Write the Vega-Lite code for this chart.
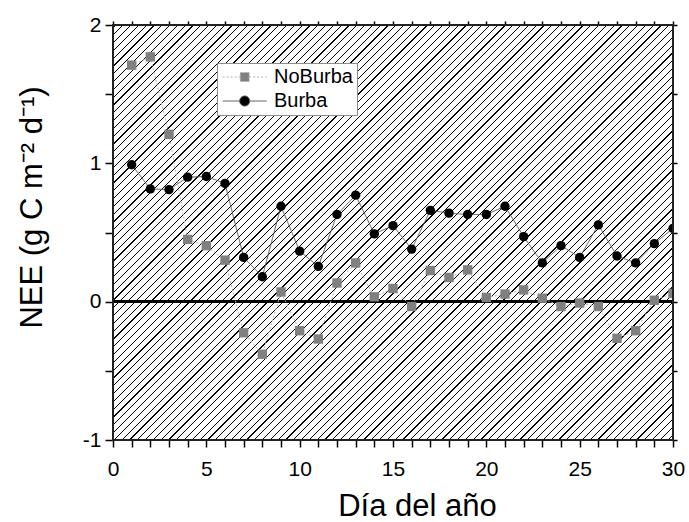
{
  "$schema": "https://vega.github.io/schema/vega-lite/v6.json",
  "autosize": {"type": "none"},
  "width": 560,
  "height": 415,
  "padding": {"left": 113, "top": 25, "right": 16, "bottom": 82},
  "background": "#ffffff",
  "config": {
    "view": {"stroke": null},
    "axis": {
      "domain": false, "grid": false, "zindex": 1,
      "tickColor": "#000", "tickWidth": 1.5,
      "labelFont": "Liberation Sans", "labelFontSize": 21, "labelColor": "#000",
      "labelOverlap": false, "labelFlush": false,
      "titleFont": "Liberation Sans", "titleFontSize": 31, "titleFontWeight": "normal", "titleColor": "#000"
    },
    "legend": {
      "orient": "none", "legendX": 104, "legendY": 38,
      "padding": 4, "fillColor": "#ffffff", "strokeColor": "#8c8c8c",
      "labelFont": "Liberation Sans", "labelFontSize": 20, "labelColor": "#000", "labelLimit": 300,
      "symbolSize": 100, "symbolOffset": 13.7, "labelOffset": 19.3, "rowPadding": 4,
      "symbolOpacity": 1, "symbolStrokeWidth": 1
    }
  },
  "data": {
    "values": [
      {"day": 1, "series": "NoBurba", "nee": 1.71},
      {"day": 2, "series": "NoBurba", "nee": 1.77},
      {"day": 3, "series": "NoBurba", "nee": 1.21},
      {"day": 4, "series": "NoBurba", "nee": 0.45},
      {"day": 5, "series": "NoBurba", "nee": 0.405},
      {"day": 6, "series": "NoBurba", "nee": 0.30},
      {"day": 7, "series": "NoBurba", "nee": -0.225},
      {"day": 8, "series": "NoBurba", "nee": -0.38},
      {"day": 9, "series": "NoBurba", "nee": 0.07},
      {"day": 10, "series": "NoBurba", "nee": -0.21},
      {"day": 11, "series": "NoBurba", "nee": -0.27},
      {"day": 12, "series": "NoBurba", "nee": 0.135},
      {"day": 13, "series": "NoBurba", "nee": 0.28},
      {"day": 14, "series": "NoBurba", "nee": 0.035},
      {"day": 15, "series": "NoBurba", "nee": 0.095},
      {"day": 16, "series": "NoBurba", "nee": -0.035},
      {"day": 17, "series": "NoBurba", "nee": 0.225},
      {"day": 18, "series": "NoBurba", "nee": 0.175},
      {"day": 19, "series": "NoBurba", "nee": 0.23},
      {"day": 20, "series": "NoBurba", "nee": 0.03},
      {"day": 21, "series": "NoBurba", "nee": 0.055},
      {"day": 22, "series": "NoBurba", "nee": 0.085},
      {"day": 23, "series": "NoBurba", "nee": 0.025},
      {"day": 24, "series": "NoBurba", "nee": -0.035},
      {"day": 25, "series": "NoBurba", "nee": -0.01},
      {"day": 26, "series": "NoBurba", "nee": -0.035},
      {"day": 27, "series": "NoBurba", "nee": -0.265},
      {"day": 28, "series": "NoBurba", "nee": -0.21},
      {"day": 29, "series": "NoBurba", "nee": 0.01},
      {"day": 30, "series": "NoBurba", "nee": 0.06},
      {"day": 1, "series": "Burba", "nee": 0.99},
      {"day": 2, "series": "Burba", "nee": 0.815},
      {"day": 3, "series": "Burba", "nee": 0.81},
      {"day": 4, "series": "Burba", "nee": 0.90},
      {"day": 5, "series": "Burba", "nee": 0.905},
      {"day": 6, "series": "Burba", "nee": 0.855},
      {"day": 7, "series": "Burba", "nee": 0.32},
      {"day": 8, "series": "Burba", "nee": 0.18},
      {"day": 9, "series": "Burba", "nee": 0.69},
      {"day": 10, "series": "Burba", "nee": 0.365},
      {"day": 11, "series": "Burba", "nee": 0.255},
      {"day": 12, "series": "Burba", "nee": 0.63},
      {"day": 13, "series": "Burba", "nee": 0.77},
      {"day": 14, "series": "Burba", "nee": 0.49},
      {"day": 15, "series": "Burba", "nee": 0.55},
      {"day": 16, "series": "Burba", "nee": 0.38},
      {"day": 17, "series": "Burba", "nee": 0.66},
      {"day": 18, "series": "Burba", "nee": 0.64},
      {"day": 19, "series": "Burba", "nee": 0.63},
      {"day": 20, "series": "Burba", "nee": 0.63},
      {"day": 21, "series": "Burba", "nee": 0.69},
      {"day": 22, "series": "Burba", "nee": 0.47},
      {"day": 23, "series": "Burba", "nee": 0.28},
      {"day": 24, "series": "Burba", "nee": 0.405},
      {"day": 25, "series": "Burba", "nee": 0.32},
      {"day": 26, "series": "Burba", "nee": 0.555},
      {"day": 27, "series": "Burba", "nee": 0.33},
      {"day": 28, "series": "Burba", "nee": 0.28},
      {"day": 29, "series": "Burba", "nee": 0.42},
      {"day": 30, "series": "Burba", "nee": 0.53}
    ]
  },
  "resolve": {
    "axis": {"x": "independent", "y": "independent"},
    "scale": {"shape": "independent", "fill": "independent", "stroke": "independent", "strokeDash": "independent"}
  },
  "layer": [
    {
      "mark": {
        "type": "rect",
        "fill": {
          "gradient": "linear", "x1": 0, "y1": 0, "x2": 1.1238, "y2": 0.8328,
          "stops": [
{"offset":0.002,"color":"#fff"},{"offset":0.002,"color":"#000"},{"offset":0.0032,"color":"#000"},{"offset":0.0032,"color":"#fff"},
{"offset":0.010,"color":"#fff"},{"offset":0.010,"color":"#000"},{"offset":0.0112,"color":"#000"},{"offset":0.0112,"color":"#fff"},
{"offset":0.018,"color":"#fff"},{"offset":0.018,"color":"#000"},{"offset":0.0192,"color":"#000"},{"offset":0.0192,"color":"#fff"},
{"offset":0.026,"color":"#fff"},{"offset":0.026,"color":"#000"},{"offset":0.0272,"color":"#000"},{"offset":0.0272,"color":"#fff"},
{"offset":0.034,"color":"#fff"},{"offset":0.034,"color":"#000"},{"offset":0.0352,"color":"#000"},{"offset":0.0352,"color":"#fff"},
{"offset":0.042,"color":"#fff"},{"offset":0.042,"color":"#000"},{"offset":0.0432,"color":"#000"},{"offset":0.0432,"color":"#fff"},
{"offset":0.050,"color":"#fff"},{"offset":0.050,"color":"#000"},{"offset":0.0512,"color":"#000"},{"offset":0.0512,"color":"#fff"},
{"offset":0.058,"color":"#fff"},{"offset":0.058,"color":"#000"},{"offset":0.0592,"color":"#000"},{"offset":0.0592,"color":"#fff"},
{"offset":0.066,"color":"#fff"},{"offset":0.066,"color":"#000"},{"offset":0.0672,"color":"#000"},{"offset":0.0672,"color":"#fff"},
{"offset":0.074,"color":"#fff"},{"offset":0.074,"color":"#000"},{"offset":0.0752,"color":"#000"},{"offset":0.0752,"color":"#fff"},
{"offset":0.082,"color":"#fff"},{"offset":0.082,"color":"#000"},{"offset":0.0832,"color":"#000"},{"offset":0.0832,"color":"#fff"},
{"offset":0.090,"color":"#fff"},{"offset":0.090,"color":"#000"},{"offset":0.0912,"color":"#000"},{"offset":0.0912,"color":"#fff"},
{"offset":0.098,"color":"#fff"},{"offset":0.098,"color":"#000"},{"offset":0.0992,"color":"#000"},{"offset":0.0992,"color":"#fff"},
{"offset":0.106,"color":"#fff"},{"offset":0.106,"color":"#000"},{"offset":0.1072,"color":"#000"},{"offset":0.1072,"color":"#fff"},
{"offset":0.114,"color":"#fff"},{"offset":0.114,"color":"#000"},{"offset":0.1152,"color":"#000"},{"offset":0.1152,"color":"#fff"},
{"offset":0.122,"color":"#fff"},{"offset":0.122,"color":"#000"},{"offset":0.1232,"color":"#000"},{"offset":0.1232,"color":"#fff"},
{"offset":0.130,"color":"#fff"},{"offset":0.130,"color":"#000"},{"offset":0.1312,"color":"#000"},{"offset":0.1312,"color":"#fff"},
{"offset":0.138,"color":"#fff"},{"offset":0.138,"color":"#000"},{"offset":0.1392,"color":"#000"},{"offset":0.1392,"color":"#fff"},
{"offset":0.146,"color":"#fff"},{"offset":0.146,"color":"#000"},{"offset":0.1472,"color":"#000"},{"offset":0.1472,"color":"#fff"},
{"offset":0.154,"color":"#fff"},{"offset":0.154,"color":"#000"},{"offset":0.1552,"color":"#000"},{"offset":0.1552,"color":"#fff"},
{"offset":0.162,"color":"#fff"},{"offset":0.162,"color":"#000"},{"offset":0.1632,"color":"#000"},{"offset":0.1632,"color":"#fff"},
{"offset":0.170,"color":"#fff"},{"offset":0.170,"color":"#000"},{"offset":0.1712,"color":"#000"},{"offset":0.1712,"color":"#fff"},
{"offset":0.178,"color":"#fff"},{"offset":0.178,"color":"#000"},{"offset":0.1792,"color":"#000"},{"offset":0.1792,"color":"#fff"},
{"offset":0.186,"color":"#fff"},{"offset":0.186,"color":"#000"},{"offset":0.1872,"color":"#000"},{"offset":0.1872,"color":"#fff"},
{"offset":0.194,"color":"#fff"},{"offset":0.194,"color":"#000"},{"offset":0.1952,"color":"#000"},{"offset":0.1952,"color":"#fff"},
{"offset":0.202,"color":"#fff"},{"offset":0.202,"color":"#000"},{"offset":0.2032,"color":"#000"},{"offset":0.2032,"color":"#fff"},
{"offset":0.210,"color":"#fff"},{"offset":0.210,"color":"#000"},{"offset":0.2112,"color":"#000"},{"offset":0.2112,"color":"#fff"},
{"offset":0.218,"color":"#fff"},{"offset":0.218,"color":"#000"},{"offset":0.2192,"color":"#000"},{"offset":0.2192,"color":"#fff"},
{"offset":0.226,"color":"#fff"},{"offset":0.226,"color":"#000"},{"offset":0.2272,"color":"#000"},{"offset":0.2272,"color":"#fff"},
{"offset":0.234,"color":"#fff"},{"offset":0.234,"color":"#000"},{"offset":0.2352,"color":"#000"},{"offset":0.2352,"color":"#fff"},
{"offset":0.242,"color":"#fff"},{"offset":0.242,"color":"#000"},{"offset":0.2432,"color":"#000"},{"offset":0.2432,"color":"#fff"},
{"offset":0.250,"color":"#fff"},{"offset":0.250,"color":"#000"},{"offset":0.2512,"color":"#000"},{"offset":0.2512,"color":"#fff"},
{"offset":0.258,"color":"#fff"},{"offset":0.258,"color":"#000"},{"offset":0.2592,"color":"#000"},{"offset":0.2592,"color":"#fff"},
{"offset":0.266,"color":"#fff"},{"offset":0.266,"color":"#000"},{"offset":0.2672,"color":"#000"},{"offset":0.2672,"color":"#fff"},
{"offset":0.274,"color":"#fff"},{"offset":0.274,"color":"#000"},{"offset":0.2752,"color":"#000"},{"offset":0.2752,"color":"#fff"},
{"offset":0.282,"color":"#fff"},{"offset":0.282,"color":"#000"},{"offset":0.2832,"color":"#000"},{"offset":0.2832,"color":"#fff"},
{"offset":0.290,"color":"#fff"},{"offset":0.290,"color":"#000"},{"offset":0.2912,"color":"#000"},{"offset":0.2912,"color":"#fff"},
{"offset":0.298,"color":"#fff"},{"offset":0.298,"color":"#000"},{"offset":0.2992,"color":"#000"},{"offset":0.2992,"color":"#fff"},
{"offset":0.306,"color":"#fff"},{"offset":0.306,"color":"#000"},{"offset":0.3072,"color":"#000"},{"offset":0.3072,"color":"#fff"},
{"offset":0.314,"color":"#fff"},{"offset":0.314,"color":"#000"},{"offset":0.3152,"color":"#000"},{"offset":0.3152,"color":"#fff"},
{"offset":0.322,"color":"#fff"},{"offset":0.322,"color":"#000"},{"offset":0.3232,"color":"#000"},{"offset":0.3232,"color":"#fff"},
{"offset":0.330,"color":"#fff"},{"offset":0.330,"color":"#000"},{"offset":0.3312,"color":"#000"},{"offset":0.3312,"color":"#fff"},
{"offset":0.338,"color":"#fff"},{"offset":0.338,"color":"#000"},{"offset":0.3392,"color":"#000"},{"offset":0.3392,"color":"#fff"},
{"offset":0.346,"color":"#fff"},{"offset":0.346,"color":"#000"},{"offset":0.3472,"color":"#000"},{"offset":0.3472,"color":"#fff"},
{"offset":0.354,"color":"#fff"},{"offset":0.354,"color":"#000"},{"offset":0.3552,"color":"#000"},{"offset":0.3552,"color":"#fff"},
{"offset":0.362,"color":"#fff"},{"offset":0.362,"color":"#000"},{"offset":0.3632,"color":"#000"},{"offset":0.3632,"color":"#fff"},
{"offset":0.370,"color":"#fff"},{"offset":0.370,"color":"#000"},{"offset":0.3712,"color":"#000"},{"offset":0.3712,"color":"#fff"},
{"offset":0.378,"color":"#fff"},{"offset":0.378,"color":"#000"},{"offset":0.3792,"color":"#000"},{"offset":0.3792,"color":"#fff"},
{"offset":0.386,"color":"#fff"},{"offset":0.386,"color":"#000"},{"offset":0.3872,"color":"#000"},{"offset":0.3872,"color":"#fff"},
{"offset":0.394,"color":"#fff"},{"offset":0.394,"color":"#000"},{"offset":0.3952,"color":"#000"},{"offset":0.3952,"color":"#fff"},
{"offset":0.402,"color":"#fff"},{"offset":0.402,"color":"#000"},{"offset":0.4032,"color":"#000"},{"offset":0.4032,"color":"#fff"},
{"offset":0.410,"color":"#fff"},{"offset":0.410,"color":"#000"},{"offset":0.4112,"color":"#000"},{"offset":0.4112,"color":"#fff"},
{"offset":0.418,"color":"#fff"},{"offset":0.418,"color":"#000"},{"offset":0.4192,"color":"#000"},{"offset":0.4192,"color":"#fff"},
{"offset":0.426,"color":"#fff"},{"offset":0.426,"color":"#000"},{"offset":0.4272,"color":"#000"},{"offset":0.4272,"color":"#fff"},
{"offset":0.434,"color":"#fff"},{"offset":0.434,"color":"#000"},{"offset":0.4352,"color":"#000"},{"offset":0.4352,"color":"#fff"},
{"offset":0.442,"color":"#fff"},{"offset":0.442,"color":"#000"},{"offset":0.4432,"color":"#000"},{"offset":0.4432,"color":"#fff"},
{"offset":0.450,"color":"#fff"},{"offset":0.450,"color":"#000"},{"offset":0.4512,"color":"#000"},{"offset":0.4512,"color":"#fff"},
{"offset":0.458,"color":"#fff"},{"offset":0.458,"color":"#000"},{"offset":0.4592,"color":"#000"},{"offset":0.4592,"color":"#fff"},
{"offset":0.466,"color":"#fff"},{"offset":0.466,"color":"#000"},{"offset":0.4672,"color":"#000"},{"offset":0.4672,"color":"#fff"},
{"offset":0.474,"color":"#fff"},{"offset":0.474,"color":"#000"},{"offset":0.4752,"color":"#000"},{"offset":0.4752,"color":"#fff"},
{"offset":0.482,"color":"#fff"},{"offset":0.482,"color":"#000"},{"offset":0.4832,"color":"#000"},{"offset":0.4832,"color":"#fff"},
{"offset":0.490,"color":"#fff"},{"offset":0.490,"color":"#000"},{"offset":0.4912,"color":"#000"},{"offset":0.4912,"color":"#fff"},
{"offset":0.498,"color":"#fff"},{"offset":0.498,"color":"#000"},{"offset":0.4992,"color":"#000"},{"offset":0.4992,"color":"#fff"},
{"offset":0.506,"color":"#fff"},{"offset":0.506,"color":"#000"},{"offset":0.5072,"color":"#000"},{"offset":0.5072,"color":"#fff"},
{"offset":0.514,"color":"#fff"},{"offset":0.514,"color":"#000"},{"offset":0.5152,"color":"#000"},{"offset":0.5152,"color":"#fff"},
{"offset":0.522,"color":"#fff"},{"offset":0.522,"color":"#000"},{"offset":0.5232,"color":"#000"},{"offset":0.5232,"color":"#fff"},
{"offset":0.530,"color":"#fff"},{"offset":0.530,"color":"#000"},{"offset":0.5312,"color":"#000"},{"offset":0.5312,"color":"#fff"},
{"offset":0.538,"color":"#fff"},{"offset":0.538,"color":"#000"},{"offset":0.5392,"color":"#000"},{"offset":0.5392,"color":"#fff"},
{"offset":0.546,"color":"#fff"},{"offset":0.546,"color":"#000"},{"offset":0.5472,"color":"#000"},{"offset":0.5472,"color":"#fff"},
{"offset":0.554,"color":"#fff"},{"offset":0.554,"color":"#000"},{"offset":0.5552,"color":"#000"},{"offset":0.5552,"color":"#fff"},
{"offset":0.562,"color":"#fff"},{"offset":0.562,"color":"#000"},{"offset":0.5632,"color":"#000"},{"offset":0.5632,"color":"#fff"},
{"offset":0.570,"color":"#fff"},{"offset":0.570,"color":"#000"},{"offset":0.5712,"color":"#000"},{"offset":0.5712,"color":"#fff"},
{"offset":0.578,"color":"#fff"},{"offset":0.578,"color":"#000"},{"offset":0.5792,"color":"#000"},{"offset":0.5792,"color":"#fff"},
{"offset":0.586,"color":"#fff"},{"offset":0.586,"color":"#000"},{"offset":0.5872,"color":"#000"},{"offset":0.5872,"color":"#fff"},
{"offset":0.594,"color":"#fff"},{"offset":0.594,"color":"#000"},{"offset":0.5952,"color":"#000"},{"offset":0.5952,"color":"#fff"},
{"offset":0.602,"color":"#fff"},{"offset":0.602,"color":"#000"},{"offset":0.6032,"color":"#000"},{"offset":0.6032,"color":"#fff"},
{"offset":0.610,"color":"#fff"},{"offset":0.610,"color":"#000"},{"offset":0.6112,"color":"#000"},{"offset":0.6112,"color":"#fff"},
{"offset":0.618,"color":"#fff"},{"offset":0.618,"color":"#000"},{"offset":0.6192,"color":"#000"},{"offset":0.6192,"color":"#fff"},
{"offset":0.626,"color":"#fff"},{"offset":0.626,"color":"#000"},{"offset":0.6272,"color":"#000"},{"offset":0.6272,"color":"#fff"},
{"offset":0.634,"color":"#fff"},{"offset":0.634,"color":"#000"},{"offset":0.6352,"color":"#000"},{"offset":0.6352,"color":"#fff"},
{"offset":0.642,"color":"#fff"},{"offset":0.642,"color":"#000"},{"offset":0.6432,"color":"#000"},{"offset":0.6432,"color":"#fff"},
{"offset":0.650,"color":"#fff"},{"offset":0.650,"color":"#000"},{"offset":0.6512,"color":"#000"},{"offset":0.6512,"color":"#fff"},
{"offset":0.658,"color":"#fff"},{"offset":0.658,"color":"#000"},{"offset":0.6592,"color":"#000"},{"offset":0.6592,"color":"#fff"},
{"offset":0.666,"color":"#fff"},{"offset":0.666,"color":"#000"},{"offset":0.6672,"color":"#000"},{"offset":0.6672,"color":"#fff"},
{"offset":0.674,"color":"#fff"},{"offset":0.674,"color":"#000"},{"offset":0.6752,"color":"#000"},{"offset":0.6752,"color":"#fff"},
{"offset":0.682,"color":"#fff"},{"offset":0.682,"color":"#000"},{"offset":0.6832,"color":"#000"},{"offset":0.6832,"color":"#fff"},
{"offset":0.690,"color":"#fff"},{"offset":0.690,"color":"#000"},{"offset":0.6912,"color":"#000"},{"offset":0.6912,"color":"#fff"},
{"offset":0.698,"color":"#fff"},{"offset":0.698,"color":"#000"},{"offset":0.6992,"color":"#000"},{"offset":0.6992,"color":"#fff"},
{"offset":0.706,"color":"#fff"},{"offset":0.706,"color":"#000"},{"offset":0.7072,"color":"#000"},{"offset":0.7072,"color":"#fff"},
{"offset":0.714,"color":"#fff"},{"offset":0.714,"color":"#000"},{"offset":0.7152,"color":"#000"},{"offset":0.7152,"color":"#fff"},
{"offset":0.722,"color":"#fff"},{"offset":0.722,"color":"#000"},{"offset":0.7232,"color":"#000"},{"offset":0.7232,"color":"#fff"},
{"offset":0.730,"color":"#fff"},{"offset":0.730,"color":"#000"},{"offset":0.7312,"color":"#000"},{"offset":0.7312,"color":"#fff"},
{"offset":0.738,"color":"#fff"},{"offset":0.738,"color":"#000"},{"offset":0.7392,"color":"#000"},{"offset":0.7392,"color":"#fff"},
{"offset":0.746,"color":"#fff"},{"offset":0.746,"color":"#000"},{"offset":0.7472,"color":"#000"},{"offset":0.7472,"color":"#fff"},
{"offset":0.754,"color":"#fff"},{"offset":0.754,"color":"#000"},{"offset":0.7552,"color":"#000"},{"offset":0.7552,"color":"#fff"},
{"offset":0.762,"color":"#fff"},{"offset":0.762,"color":"#000"},{"offset":0.7632,"color":"#000"},{"offset":0.7632,"color":"#fff"},
{"offset":0.770,"color":"#fff"},{"offset":0.770,"color":"#000"},{"offset":0.7712,"color":"#000"},{"offset":0.7712,"color":"#fff"},
{"offset":0.778,"color":"#fff"},{"offset":0.778,"color":"#000"},{"offset":0.7792,"color":"#000"},{"offset":0.7792,"color":"#fff"},
{"offset":0.786,"color":"#fff"},{"offset":0.786,"color":"#000"},{"offset":0.7872,"color":"#000"},{"offset":0.7872,"color":"#fff"},
{"offset":0.794,"color":"#fff"},{"offset":0.794,"color":"#000"},{"offset":0.7952,"color":"#000"},{"offset":0.7952,"color":"#fff"},
{"offset":0.802,"color":"#fff"},{"offset":0.802,"color":"#000"},{"offset":0.8032,"color":"#000"},{"offset":0.8032,"color":"#fff"},
{"offset":0.810,"color":"#fff"},{"offset":0.810,"color":"#000"},{"offset":0.8112,"color":"#000"},{"offset":0.8112,"color":"#fff"},
{"offset":0.818,"color":"#fff"},{"offset":0.818,"color":"#000"},{"offset":0.8192,"color":"#000"},{"offset":0.8192,"color":"#fff"},
{"offset":0.826,"color":"#fff"},{"offset":0.826,"color":"#000"},{"offset":0.8272,"color":"#000"},{"offset":0.8272,"color":"#fff"},
{"offset":0.834,"color":"#fff"},{"offset":0.834,"color":"#000"},{"offset":0.8352,"color":"#000"},{"offset":0.8352,"color":"#fff"},
{"offset":0.842,"color":"#fff"},{"offset":0.842,"color":"#000"},{"offset":0.8432,"color":"#000"},{"offset":0.8432,"color":"#fff"},
{"offset":0.850,"color":"#fff"},{"offset":0.850,"color":"#000"},{"offset":0.8512,"color":"#000"},{"offset":0.8512,"color":"#fff"},
{"offset":0.858,"color":"#fff"},{"offset":0.858,"color":"#000"},{"offset":0.8592,"color":"#000"},{"offset":0.8592,"color":"#fff"},
{"offset":0.866,"color":"#fff"},{"offset":0.866,"color":"#000"},{"offset":0.8672,"color":"#000"},{"offset":0.8672,"color":"#fff"},
{"offset":0.874,"color":"#fff"},{"offset":0.874,"color":"#000"},{"offset":0.8752,"color":"#000"},{"offset":0.8752,"color":"#fff"},
{"offset":0.882,"color":"#fff"},{"offset":0.882,"color":"#000"},{"offset":0.8832,"color":"#000"},{"offset":0.8832,"color":"#fff"},
{"offset":0.890,"color":"#fff"},{"offset":0.890,"color":"#000"},{"offset":0.8912,"color":"#000"},{"offset":0.8912,"color":"#fff"},
{"offset":0.898,"color":"#fff"},{"offset":0.898,"color":"#000"},{"offset":0.8992,"color":"#000"},{"offset":0.8992,"color":"#fff"},
{"offset":0.906,"color":"#fff"},{"offset":0.906,"color":"#000"},{"offset":0.9072,"color":"#000"},{"offset":0.9072,"color":"#fff"},
{"offset":0.914,"color":"#fff"},{"offset":0.914,"color":"#000"},{"offset":0.9152,"color":"#000"},{"offset":0.9152,"color":"#fff"},
{"offset":0.922,"color":"#fff"},{"offset":0.922,"color":"#000"},{"offset":0.9232,"color":"#000"},{"offset":0.9232,"color":"#fff"},
{"offset":0.930,"color":"#fff"},{"offset":0.930,"color":"#000"},{"offset":0.9312,"color":"#000"},{"offset":0.9312,"color":"#fff"},
{"offset":0.938,"color":"#fff"},{"offset":0.938,"color":"#000"},{"offset":0.9392,"color":"#000"},{"offset":0.9392,"color":"#fff"},
{"offset":0.946,"color":"#fff"},{"offset":0.946,"color":"#000"},{"offset":0.9472,"color":"#000"},{"offset":0.9472,"color":"#fff"},
{"offset":0.954,"color":"#fff"},{"offset":0.954,"color":"#000"},{"offset":0.9552,"color":"#000"},{"offset":0.9552,"color":"#fff"},
{"offset":0.962,"color":"#fff"},{"offset":0.962,"color":"#000"},{"offset":0.9632,"color":"#000"},{"offset":0.9632,"color":"#fff"},
{"offset":0.970,"color":"#fff"},{"offset":0.970,"color":"#000"},{"offset":0.9712,"color":"#000"},{"offset":0.9712,"color":"#fff"},
{"offset":0.978,"color":"#fff"},{"offset":0.978,"color":"#000"},{"offset":0.9792,"color":"#000"},{"offset":0.9792,"color":"#fff"},
{"offset":0.986,"color":"#fff"},{"offset":0.986,"color":"#000"},{"offset":0.9872,"color":"#000"},{"offset":0.9872,"color":"#fff"},
{"offset":0.994,"color":"#fff"},{"offset":0.994,"color":"#000"},{"offset":0.9952,"color":"#000"},{"offset":0.9952,"color":"#fff"}
          ]
        }
      },
      "encoding": {
        "x": {
          "datum": 0, "type": "quantitative",
          "scale": {"domain": [0, 30], "nice": false, "zero": false},
          "axis": {
            "orient": "bottom",
            "values": [0,1,2,3,4,5,6,7,8,9,10,11,12,13,14,15,16,17,18,19,20,21,22,23,24,25,26,27,28,29,30],
            "tickSize": 7, "labelPadding": 11,
            "labelExpr": "datum.value % 5 === 0 ? '' + datum.value : ''",
            "encode": {"ticks": {"update": {"y2": {"signal": "datum.value % 5 === 0 ? 7 : 3.5"}}}},
            "title": "Día del año",
            "titleX": 304, "titleY": 75, "titleAlign": "center", "titleBaseline": "alphabetic", "titleAnchor": null
          }
        },
        "x2": {"datum": 30},
        "y": {
          "datum": -1, "type": "quantitative",
          "scale": {"domain": [-1, 2], "nice": false, "zero": false},
          "axis": {
            "orient": "left",
            "values": [-1, -0.5, 0, 0.5, 1, 1.5, 2],
            "tickSize": 8, "labelPadding": 4,
            "labelExpr": "datum.value === round(datum.value) ? (datum.value < 0 ? '-' + abs(datum.value) : '' + datum.value) : ''",
            "encode": {"ticks": {"update": {"x2": {"signal": "datum.value === round(datum.value) ? -8 : 4"}}}},
            "title": "NEE (g C m⁻² d⁻¹)",
            "titleX": -72, "titleY": 182, "titleAngle": -90, "titleAlign": "center", "titleBaseline": "alphabetic", "titleAnchor": null
          }
        },
        "y2": {"datum": 2}
      }
    },
    {
      "mark": {"type": "rule", "color": "#000", "strokeWidth": 2},
      "encoding": {
        "x": {"datum": 0, "type": "quantitative", "axis": null},
        "x2": {"datum": 30},
        "y": {"datum": 0, "type": "quantitative", "axis": null}
      }
    },
    {
      "mark": {"type": "line", "strokeWidth": 1, "clip": true},
      "encoding": {
        "x": {
          "field": "day", "type": "quantitative",
          "axis": {
            "orient": "top",
            "values": [0,1,2,3,4,5,6,7,8,9,10,11,12,13,14,15,16,17,18,19,20,21,22,23,24,25,26,27,28,29,30],
            "tickSize": 4, "labels": false, "title": null,
            "encode": {"ticks": {"update": {"y2": {"signal": "datum.value % 5 === 0 ? 8 : 4"}}}}
          }
        },
        "y": {
          "field": "nee", "type": "quantitative",
          "axis": {
            "orient": "right",
            "values": [-1, -0.5, 0, 0.5, 1, 1.5, 2],
            "tickSize": 4, "labels": false, "title": null,
            "encode": {"ticks": {"update": {"x2": {"signal": "-4"}}}}
          }
        },
        "stroke": {"field": "series", "type": "nominal", "scale": {"range": ["#555555", "#b4b4b4"]}, "legend": null},
        "strokeDash": {"field": "series", "type": "nominal", "scale": {"range": [[1, 0], [2, 2]]}, "legend": null}
      }
    },
    {
      "mark": {"type": "point", "filled": true, "size": 88, "opacity": 1, "strokeWidth": 0, "clip": true},
      "encoding": {
        "x": {"field": "day", "type": "quantitative", "axis": null},
        "y": {"field": "nee", "type": "quantitative", "axis": null},
        "fill": {"field": "series", "type": "nominal", "scale": {"range": ["#000000", "#808080"]}, "legend": null},
        "shape": {"field": "series", "type": "nominal", "scale": {"range": ["circle", "square"]}, "legend": null}
      }
    },
    {
      "mark": {"type": "point", "filled": true, "size": 100, "opacity": 0, "strokeWidth": 1},
      "encoding": {
        "x": {"field": "day", "type": "quantitative", "axis": null},
        "y": {"field": "nee", "type": "quantitative", "axis": null},
        "shape": {
          "field": "series", "type": "nominal",
          "scale": {"domain": ["NoBurba", "Burba"], "range": ["M-4.4,0H-0.9M0.9,0H4.4M-0.9,-0.9H0.9V0.9H-0.9Z", "M-4.4,0H-1M1,0H4.4M-1,0A1,1,0,1,0,1,0A1,1,0,1,0,-1,0Z"]},
          "legend": {"title": null, "labelFontSize": 20, "encode": {"labels": {"fontSize": {"value": 20}}}}
        },
        "fill": {
          "field": "series", "type": "nominal",
          "scale": {"domain": ["NoBurba", "Burba"], "range": ["#808080", "#000000"]},
          "legend": {"title": null, "labelFontSize": 20, "encode": {"labels": {"fontSize": {"value": 20}}}}
        },
        "stroke": {
          "field": "series", "type": "nominal",
          "scale": {"domain": ["NoBurba", "Burba"], "range": ["#b4b4b4", "#555555"]},
          "legend": {"title": null, "labelFontSize": 20, "encode": {"labels": {"fontSize": {"value": 20}}}}
        },
        "strokeDash": {
          "field": "series", "type": "nominal",
          "scale": {"domain": ["NoBurba", "Burba"], "range": [[2, 2], [1, 0]]},
          "legend": {"title": null, "labelFontSize": 20, "encode": {"labels": {"fontSize": {"value": 20}}}}
        }
      }
    },
    {
      "mark": {"type": "rect", "filled": false, "fill": null, "stroke": "#222222", "strokeWidth": 2},
      "encoding": {
        "x": {"datum": 0, "type": "quantitative", "axis": null},
        "x2": {"datum": 30},
        "y": {"datum": -1, "type": "quantitative", "axis": null},
        "y2": {"datum": 2}
      }
    }
  ]
}
